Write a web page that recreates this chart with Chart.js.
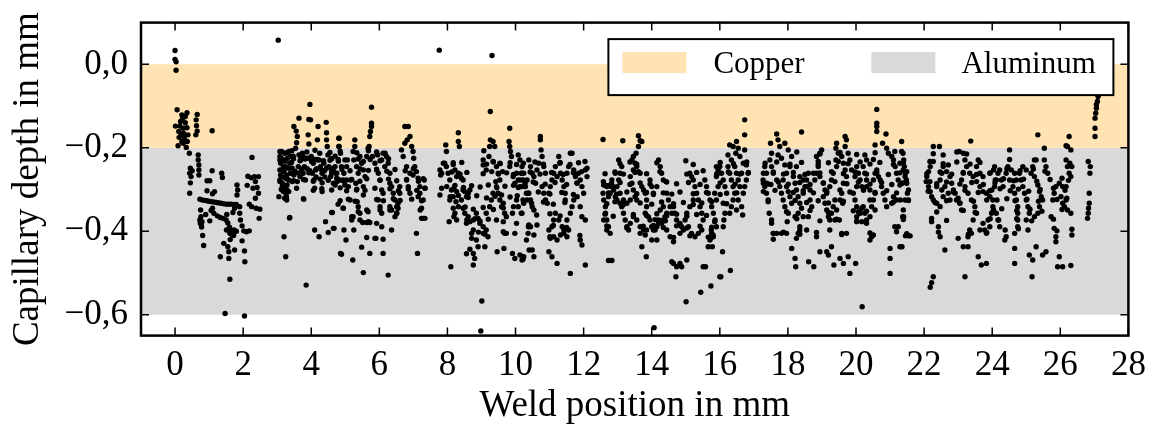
<!DOCTYPE html>
<html>
<head>
<meta charset="utf-8">
<script src="https://cdn.jsdelivr.net/npm/chart.js@4.4.1/dist/chart.umd.min.js"></script>
<style>
  html, body { margin: 0; padding: 0; background: #fff; }
</style>
</head>
<body>
<canvas id="depthChart" width="1150" height="428"></canvas>
<script>
const seg0to3 = [
  [0,0.033],[0,0.012],[0.03,0.006],[0.03,-0.014],
  [0.06,-0.109],[0.2,-0.121],[0.3,-0.125],[0.35,-0.116],[0.01,-0.148],[0.14,-0.148],[0.24,-0.153],[0.35,-0.152],
  [0.11,-0.161],[0.18,-0.169],[0.27,-0.173],[0.38,-0.169],[0.09,-0.195],[0.24,-0.189],[0.33,-0.199],[0.28,-0.181],
  [0.16,-0.137],[0.22,-0.13],[0.25,-0.165],[0.3,-0.14],[0.12,-0.175],[0.36,-0.185],[0.2,-0.185],
  [0.65,-0.12],[0.62,-0.133],[0.63,-0.147],[0.65,-0.16],[0.61,-0.169],[1.09,-0.159],[0.42,-0.213],
  [0.45,-0.249],[0.5,-0.255],[0.43,-0.261],[0.47,-0.269],[0.45,-0.284],[0.43,-0.309],
  [0.68,-0.217],[0.68,-0.229],[0.7,-0.241],[0.7,-0.253],[0.7,-0.265],
  [0.73,-0.323],[0.75,-0.349],[0.73,-0.373],[0.79,-0.377],[0.77,-0.385],[0.81,-0.41],[0.84,-0.434],
  [0.74,-0.38],[0.78,-0.39],[0.76,-0.365],[0.9,-0.36],[1.02,-0.375],
  [0.94,-0.279],[1.02,-0.279],[0.94,-0.303],[1.16,-0.305],[1.09,-0.255],[1.37,-0.261],[1.39,-0.271],[1.1,-0.31],[1.1,-0.345],
  [0.8,-0.325],[0.87,-0.326],[0.93,-0.327],[1.0,-0.328],[1.06,-0.329],[1.14,-0.33],[1.22,-0.331],[1.29,-0.332],
  [1.35,-0.333],[1.43,-0.334],[1.51,-0.335],[1.58,-0.335],[1.65,-0.335],[1.73,-0.336],[1.8,-0.336],
  [1.06,-0.35],[1.14,-0.357],[1.24,-0.363],[1.33,-0.367],[1.41,-0.369],[1.5,-0.373],
  [1.33,-0.461],[1.43,-0.429],[1.55,-0.437],[1.58,-0.449],[1.58,-0.465],[1.51,-0.397],[1.61,-0.405],[1.68,-0.409],
  [1.73,-0.397],[1.75,-0.445],[1.61,-0.515],[1.47,-0.597],[2.04,-0.603],
  [1.55,-0.38],[1.6,-0.39],[1.65,-0.4],[1.72,-0.41],[1.8,-0.4],[1.62,-0.42],[1.52,-0.36],[1.7,-0.355],[1.75,-0.345],
  [1.82,-0.289],[1.84,-0.301],[1.82,-0.313],[1.9,-0.341],[1.9,-0.357],[1.92,-0.373],[1.97,-0.387],[2.02,-0.399],
  [2.1,-0.401],[2.18,-0.399],[1.97,-0.423],[2.04,-0.447],[2.05,-0.473],
  [2.26,-0.223],[2.14,-0.268],[2.24,-0.272],[2.33,-0.269],[2.45,-0.269],[2.36,-0.281],[2.41,-0.295],[2.29,-0.297],
  [2.45,-0.309],[2.36,-0.321],[2.18,-0.335],[2.25,-0.341],[2.38,-0.345],[2.49,-0.347],[2.47,-0.369],[2.12,-0.29]
];

const seg3to5 = [
  [3.03,0.058],
  [3.08,-0.209],[3.08,-0.221],[3.1,-0.237],[3.08,-0.253],[3.1,-0.265],[3.08,-0.281],[3.15,-0.293],[3.18,-0.305],
  [3.05,-0.317],[3.27,-0.317],[3.34,-0.305],[3.29,-0.289],[3.25,-0.273],[3.2,-0.257],[3.18,-0.245],[3.2,-0.229],
  [3.22,-0.213],[3.34,-0.209],[3.39,-0.221],[3.37,-0.237],[3.44,-0.249],[3.39,-0.261],[3.34,-0.277],[3.44,-0.281],
  [3.49,-0.265],[3.29,-0.301],[3.22,-0.321],[3.2,-0.413],[3.25,-0.461],[3.37,-0.367],
  [3.12,-0.225],[3.14,-0.27],[3.12,-0.3],[3.24,-0.245],[3.28,-0.265],[3.3,-0.225],[3.42,-0.235],[3.47,-0.22],
  [3.15,-0.285],[3.26,-0.31],
  [3.49,-0.149],[3.64,-0.129],[3.56,-0.16],[3.59,-0.173],[3.57,-0.188],[3.54,-0.201],[3.64,-0.217],[3.69,-0.229],
  [3.74,-0.213],[3.8,-0.245],[3.76,-0.261],[3.83,-0.277],[3.67,-0.269],[3.59,-0.281],[3.78,-0.323],[3.85,-0.529],
  [3.96,-0.096],[3.93,-0.132],[3.98,-0.133],[3.91,-0.169],[3.93,-0.191],[4.0,-0.221],[4.06,-0.237],[4.13,-0.253],
  [4.08,-0.277],[4.1,-0.297],[4.2,-0.149],[4.18,-0.181],[4.23,-0.229],[4.27,-0.245],[4.32,-0.261],[4.32,-0.284],
  [4.32,-0.305],[4.1,-0.397],[4.23,-0.413],
  [4.44,-0.139],[4.45,-0.164],[4.45,-0.181],[4.47,-0.197],[4.49,-0.217],[4.52,-0.245],[4.57,-0.269],[4.65,-0.285],
  [4.42,-0.377],[4.5,-0.403],[4.67,-0.393],[4.62,-0.355],[4.86,-0.453],[4.81,-0.177],[4.81,-0.197],
  [3.7,-0.222],[3.8,-0.224],[3.9,-0.225],[4.0,-0.226],[4.1,-0.228],[4.2,-0.229],
  [3.88,-0.25],[3.93,-0.26],[4.03,-0.261],[4.25,-0.213],[4.37,-0.237],[4.39,-0.255],[4.72,-0.261],[4.76,-0.281],
  [4.7,-0.245],[3.62,-0.245],[3.72,-0.255],[3.6,-0.26],[4.14,-0.27],[4.4,-0.27],[4.55,-0.23],[4.6,-0.255],[4.7,-0.22]
];

const seg5to7 = [
  [4.82,-0.177],[4.82,-0.197],[4.86,-0.213],[4.79,-0.228],[4.89,-0.245],[4.96,-0.261],[4.65,-0.249],[4.6,-0.261],
  [4.75,-0.261],[4.84,-0.277],[4.94,-0.277],[5.04,-0.277],[4.7,-0.289],[4.99,-0.289],[5.09,-0.293],[5.14,-0.325],
  [4.94,-0.345],[4.79,-0.335],[4.6,-0.355],[4.65,-0.393],[4.89,-0.455],[4.96,-0.397],[5.02,-0.421],[5.22,-0.469],
  [5.25,-0.397],[5.04,-0.245],[5.06,-0.229],[5.16,-0.277],[5.28,-0.181],[5.28,-0.197],[5.23,-0.209],[5.25,-0.229],
  [5.33,-0.245],[5.38,-0.261],[5.31,-0.285],[5.33,-0.301],[5.35,-0.329],[5.38,-0.341],[5.43,-0.357],[5.23,-0.365],
  [5.19,-0.373],[5.53,-0.313],[5.53,-0.293],[5.43,-0.221],[5.48,-0.237],[5.53,-0.253],[5.58,-0.269],[5.63,-0.221],
  [5.67,-0.201],[5.7,-0.197],[5.72,-0.173],[5.77,-0.141],[5.77,-0.149],[5.77,-0.103],[5.74,-0.161],[5.8,-0.221],
  [5.87,-0.237],[5.92,-0.253],[5.97,-0.261],[6.02,-0.277],[5.95,-0.217],[6.11,-0.213],[6.07,-0.229],[6.16,-0.245],
  [6.21,-0.221],[6.26,-0.237],[6.11,-0.309],[5.97,-0.325],[6.02,-0.341],[6.07,-0.357],[5.92,-0.381],[6.07,-0.389],
  [5.87,-0.417],[6.11,-0.419],[6.26,-0.505],[6.36,-0.397],[6.31,-0.261],[6.31,-0.285],[6.36,-0.293],[6.41,-0.309],
  [6.31,-0.341],[6.31,-0.349],[6.46,-0.325],[6.51,-0.341],[6.55,-0.333],[6.6,-0.309],[6.6,-0.293],
  [6.75,-0.149],[6.85,-0.149],[6.65,-0.205],[6.7,-0.221],[6.75,-0.189],[6.82,-0.181],[6.9,-0.173],[6.95,-0.197],
  [6.99,-0.209],[7.01,-0.225],[6.8,-0.245],[6.9,-0.261],[6.8,-0.277],[6.85,-0.293],[6.9,-0.309],[6.99,-0.265],
  [7.04,-0.245],[7.09,-0.257],[7.14,-0.273],[7.19,-0.293],[7.14,-0.317],[7.19,-0.309],[7.29,-0.325],[7.32,-0.277],
  [7.34,-0.297],[7.24,-0.345],[7.24,-0.369],[7.34,-0.369],[7.09,-0.405],[7.12,-0.453],[6.51,-0.357],[6.55,-0.345],
  [6.46,-0.365],[6.36,-0.349],[6.11,-0.453],[5.72,-0.453],[5.48,-0.438],[5.53,-0.499],[5.63,-0.415],[5.9,-0.417],
  [5.67,-0.353],[5.63,-0.379],[5.72,-0.379],[5.51,-0.379]
];

// second reading of the dense band between 3 and 7.4 mm
const band3to7 = [
  [3.13,-0.209],[3.28,-0.212],[3.43,-0.207],[3.87,-0.21],[4.11,-0.206],[4.55,-0.211],[4.85,-0.208],[5.34,-0.212],
  [5.68,-0.207],[5.92,-0.21],[6.17,-0.213],
  [3.08,-0.229],[3.23,-0.232],[3.48,-0.226],[3.67,-0.231],[3.82,-0.227],[4.01,-0.233],[4.16,-0.228],[4.36,-0.231],
  [4.6,-0.226],[4.8,-0.232],[4.99,-0.229],[5.38,-0.227],[5.53,-0.233],[5.73,-0.228],[6.02,-0.231],[6.27,-0.226],
  [3.18,-0.253],[3.33,-0.249],[3.52,-0.256],[3.72,-0.251],[3.96,-0.255],[4.16,-0.25],[4.31,-0.254],[4.45,-0.249],
  [4.65,-0.256],[4.9,-0.252],[5.14,-0.255],[5.43,-0.25],[5.68,-0.254],[5.92,-0.251],[6.22,-0.256],[6.46,-0.252],
  [6.76,-0.255],[7.0,-0.25],
  [3.08,-0.277],[3.28,-0.274],[3.48,-0.279],[3.77,-0.276],[4.06,-0.28],[4.26,-0.275],[4.5,-0.278],[4.75,-0.273],
  [4.94,-0.279],[5.19,-0.276],[5.43,-0.28],[5.63,-0.274],[6.02,-0.278],[6.27,-0.275],[6.51,-0.279],[6.8,-0.276],
  [7.15,-0.28],[7.29,-0.274],
  [3.23,-0.3],[3.57,-0.297],[4.06,-0.302],[4.31,-0.298],[4.6,-0.301],[4.85,-0.296],[5.04,-0.303],[5.34,-0.299],
  [5.58,-0.302],[5.87,-0.297],[6.07,-0.301],[6.31,-0.298],[6.56,-0.303],[6.85,-0.299],[7.1,-0.302],[7.34,-0.297],
  [3.28,-0.325],[3.77,-0.322],[4.85,-0.327],[5.09,-0.323],[5.29,-0.328],[5.92,-0.324],[6.12,-0.327],[6.41,-0.322],
  [6.61,-0.326],[6.95,-0.323],[7.24,-0.327],
  [3.36,-0.368],[4.94,-0.345],[5.19,-0.365],[5.38,-0.353],[5.63,-0.349],[6.02,-0.349],[6.51,-0.357],[7.29,-0.369],
  [7.2,-0.349],[5.43,-0.373],[5.68,-0.377]
];

const seg7to10 = [
  [7.76,0.034],[9.31,0.021],
  [7.78,-0.253],[7.8,-0.265],[7.83,-0.297],[7.78,-0.313],[7.95,-0.193],[7.97,-0.209],[7.92,-0.237],[7.97,-0.245],
  [8.02,-0.261],[8.07,-0.277],[8.17,-0.236],[8.32,-0.164],[8.32,-0.185],[8.35,-0.197],[8.22,-0.253],[8.32,-0.261],
  [8.27,-0.269],[8.41,-0.273],[8.46,-0.277],[8.12,-0.301],[8.19,-0.297],[8.27,-0.305],[8.17,-0.317],[8.07,-0.325],
  [8.25,-0.329],[8.32,-0.341],[8.22,-0.357],[8.19,-0.365],[8.27,-0.373],[8.05,-0.377],[8.1,-0.485],
  [8.46,-0.301],[8.51,-0.305],[8.61,-0.309],[8.66,-0.301],[8.56,-0.317],[8.41,-0.325],[8.46,-0.345],[8.51,-0.357],
  [8.61,-0.365],[8.56,-0.381],[8.66,-0.377],[8.76,-0.373],[8.85,-0.357],[8.9,-0.369],[8.95,-0.381],[9.05,-0.389],
  [8.76,-0.397],[8.71,-0.417],[8.85,-0.421],[8.9,-0.437],[8.76,-0.453],[8.8,-0.465],[8.76,-0.481],[8.66,-0.443],
  [8.56,-0.454],[9.01,-0.567],[8.98,-0.639],
  [9.1,-0.437],[9.05,-0.405],[9.14,-0.397],[9.19,-0.413],[9.14,-0.357],[9.24,-0.341],[9.29,-0.325],[9.34,-0.309],
  [9.07,-0.207],[9.05,-0.229],[9.05,-0.241],[9.14,-0.253],[9.22,-0.221],[9.26,-0.113],[9.26,-0.181],[9.34,-0.185],
  [9.39,-0.197],[9.24,-0.197],[9.34,-0.233],[9.44,-0.245],[9.49,-0.261],[9.54,-0.277],[9.54,-0.237],[9.62,-0.257],
  [9.42,-0.281],[9.44,-0.293],[9.49,-0.309],[9.54,-0.325],[9.59,-0.341],[9.64,-0.333],[9.68,-0.357],[9.73,-0.365],
  [9.64,-0.377],[9.44,-0.373],[9.46,-0.449],[9.66,-0.441],[9.68,-0.405],[9.73,-0.405],
  [9.83,-0.153],[9.81,-0.185],[9.83,-0.197],[9.85,-0.209],[9.88,-0.221],[9.83,-0.245],[9.93,-0.269],[9.98,-0.285],
  [10.03,-0.261],[10.08,-0.277],[10.13,-0.293],[10.03,-0.325],[10.08,-0.341],[10.17,-0.357],[10.22,-0.325],
  [10.17,-0.293],[10.08,-0.217],[10.13,-0.229],[10.17,-0.261],[10.22,-0.277],[10.27,-0.293],[10.32,-0.309],
  [9.91,-0.357],[9.98,-0.405],[10.03,-0.381],[9.91,-0.453],[9.98,-0.465],[10.13,-0.457],[10.22,-0.467],
  [10.32,-0.421],[10.37,-0.405],[10.4,-0.445]
];

const band8to10 = [
  [7.88,-0.237],[8.17,-0.24],[8.42,-0.235],[9.15,-0.239],[9.35,-0.234],[9.55,-0.238],[9.84,-0.236],[10.03,-0.24],
  [7.83,-0.261],[8.13,-0.258],[8.37,-0.263],[8.57,-0.259],[9.05,-0.262],[9.3,-0.257],[9.5,-0.263],[9.74,-0.26],[9.94,-0.264],
  [7.98,-0.293],[8.22,-0.29],[8.47,-0.295],[8.71,-0.291],[8.96,-0.294],[9.2,-0.289],[9.45,-0.296],[9.69,-0.292],
  [9.94,-0.29],[10.08,-0.295],
  [8.08,-0.317],[8.32,-0.314],[8.61,-0.319],[8.86,-0.315],[9.15,-0.32],[9.4,-0.316],[9.59,-0.313],[9.84,-0.318],[10.05,-0.315],
  [8.17,-0.345],[8.52,-0.342],[8.76,-0.347],[9.05,-0.343],[9.35,-0.348],[9.64,-0.344],[9.94,-0.341],
  [8.57,-0.373],[8.81,-0.37],[8.96,-0.376],[9.2,-0.371],
  [8.71,-0.405],[8.91,-0.402],[9.1,-0.407],[9.64,-0.401]
];

const seg10to12 = [
  [10.19,-0.245],[10.24,-0.261],[10.15,-0.277],[10.29,-0.293],[10.34,-0.277],[10.39,-0.229],[10.44,-0.245],
  [10.49,-0.261],[10.54,-0.269],[10.59,-0.285],[10.39,-0.309],[10.44,-0.325],[10.49,-0.341],[10.54,-0.349],
  [10.34,-0.325],[10.24,-0.333],[10.19,-0.357],[10.63,-0.253],[10.68,-0.237],[10.73,-0.173],[10.73,-0.181],
  [10.75,-0.205],[10.78,-0.221],[10.83,-0.245],[10.88,-0.261],[10.78,-0.293],[10.83,-0.309],[10.88,-0.325],
  [10.93,-0.333],[10.98,-0.309],[11.02,-0.293],[11.07,-0.277],[11.12,-0.261],[11.17,-0.245],[11.22,-0.269],
  [11.27,-0.221],[11.3,-0.237],[11.32,-0.261],[11.37,-0.277],[11.42,-0.293],[11.46,-0.309],[11.51,-0.261],
  [11.56,-0.245],[11.61,-0.213],[11.66,-0.213],[11.71,-0.253],[11.76,-0.269],[11.81,-0.285],[11.85,-0.261],
  [11.9,-0.277],[11.95,-0.293],[12.0,-0.309],[12.05,-0.253],[12.1,-0.269],[12.1,-0.249],[11.81,-0.317],
  [11.71,-0.325],[11.66,-0.341],[11.61,-0.357],[11.46,-0.325],[11.9,-0.341],[11.95,-0.365],[12.05,-0.373],
  [11.51,-0.373],[11.42,-0.397],[11.37,-0.389],[11.27,-0.373],[11.17,-0.357],[11.12,-0.373],[11.07,-0.389],
  [10.98,-0.397],[11.12,-0.413],[11.02,-0.417],[10.98,-0.449],[11.07,-0.461],[11.22,-0.421],[11.32,-0.409],
  [11.42,-0.405],[11.22,-0.477],[10.54,-0.409],[10.44,-0.389],[10.39,-0.385],[10.63,-0.385],[10.54,-0.461],
  [10.49,-0.445],[10.24,-0.461],[10.19,-0.469],[11.56,-0.397],[11.51,-0.413],[11.61,-0.501],[11.9,-0.421],
  [11.95,-0.433],[12.05,-0.481]
];

const seg12to16 = [
  [12.57,-0.18],[13.15,-0.183],[13.61,-0.171],[13.66,-0.183],[13.71,-0.185],[13.61,-0.197],[13.54,-0.213],
  [13.46,-0.221],[13.42,-0.229],[13.51,-0.237],[13.56,-0.245],[13.61,-0.257],[13.66,-0.261],[13.46,-0.253],
  [13.37,-0.269],[13.42,-0.285],[13.46,-0.301],[13.51,-0.317],[13.56,-0.325],[13.71,-0.293],[13.76,-0.301],
  [13.81,-0.309],[13.85,-0.325],[13.37,-0.325],[13.27,-0.333],[13.17,-0.325],[13.07,-0.309],[12.98,-0.293],
  [13.03,-0.277],[13.07,-0.261],[13.12,-0.245],[13.03,-0.229],[12.93,-0.261],[12.83,-0.277],[12.78,-0.289],
  [12.68,-0.293],[12.59,-0.289],[12.57,-0.309],[12.59,-0.325],[12.64,-0.341],[12.64,-0.357],[12.68,-0.373],
  [12.73,-0.389],[12.78,-0.405],[12.68,-0.397],[12.59,-0.373],[12.73,-0.317],[12.78,-0.309],[12.88,-0.301],
  [12.93,-0.317],[12.98,-0.325],[13.07,-0.333],[13.12,-0.341],[13.17,-0.357],[13.22,-0.373],[13.27,-0.389],
  [13.32,-0.397],[13.37,-0.381],[13.46,-0.365],[13.56,-0.373],[13.66,-0.389],[13.81,-0.357],[13.85,-0.341],
  [13.9,-0.365],[13.95,-0.373],[13.85,-0.397],[13.76,-0.397],[13.71,-0.437],[13.84,-0.461],[13.81,-0.409],
  [14.0,-0.389],[14.05,-0.397],[14.1,-0.397],[14.15,-0.389],[14.2,-0.381],[14.0,-0.421],[13.66,-0.405],
  [12.73,-0.47],[12.83,-0.47],[13.95,-0.277],[14.0,-0.293],[14.05,-0.309],[14.15,-0.293],[14.2,-0.229],
  [14.25,-0.245],[14.29,-0.261],[14.34,-0.277],[14.42,-0.281],[14.44,-0.309],[14.49,-0.325],[14.54,-0.341],
  [14.59,-0.357],[14.64,-0.341],[14.68,-0.357],[14.73,-0.373],[14.83,-0.381],[14.83,-0.405],[14.88,-0.389],
  [14.93,-0.397],[14.44,-0.397],[14.54,-0.413],[14.64,-0.425],[14.59,-0.473],[14.64,-0.477],[14.73,-0.485],
  [14.71,-0.509],[14.83,-0.477],[14.88,-0.485],[15.01,-0.569],[15.03,-0.469],[14.25,-0.349],[14.34,-0.341],
  [14.39,-0.365],[14.44,-0.357],[14.29,-0.381],[14.15,-0.421],[14.07,-0.631],
  [12.65,-0.29],[12.72,-0.291],[12.8,-0.292],[12.87,-0.293],[14.1,-0.372],[14.2,-0.373],[14.3,-0.374],[14.4,-0.375],
  [15.0,-0.231],[15.12,-0.261],[15.17,-0.269],[15.22,-0.277],[15.27,-0.293],[15.32,-0.309],[15.37,-0.325],
  [15.42,-0.341],[15.47,-0.357],[15.51,-0.373],[15.22,-0.325],[15.12,-0.341],[15.03,-0.357],[14.98,-0.373],
  [15.08,-0.389],[15.17,-0.405],[15.27,-0.413],[15.37,-0.405],[15.47,-0.397],[15.51,-0.255],[15.56,-0.277],
  [15.61,-0.293],[15.66,-0.309],[15.71,-0.325],[15.76,-0.341],[15.81,-0.357],[15.86,-0.373],[15.9,-0.389],
  [15.76,-0.405],[15.71,-0.421],[15.81,-0.413],[15.9,-0.245],[15.95,-0.261],[15.51,-0.485],[15.58,-0.485],
  [15.44,-0.546],[15.74,-0.531],[16.0,-0.509],[15.66,-0.437]
];

const band10to16 = [
  [10.23,-0.237],[10.57,-0.234],[10.82,-0.239],[11.31,-0.235],[11.6,-0.24],[11.85,-0.236],[12.04,-0.233],[13.07,-0.238],
  [13.36,-0.234],[13.56,-0.239],[14.15,-0.236],[15.22,-0.24],[16.01,-0.235],[16.4,-0.238],[16.79,-0.234],
  [10.18,-0.261],[10.43,-0.258],[10.72,-0.263],[11.06,-0.259],[11.4,-0.264],[11.7,-0.26],[11.94,-0.257],[12.63,-0.262],
  [12.92,-0.258],[13.17,-0.263],[13.51,-0.259],[13.85,-0.262],[14.24,-0.257],[15.03,-0.263],[15.32,-0.259],[15.91,-0.262],
  [16.25,-0.258],[16.59,-0.263],[16.84,-0.259],
  [10.28,-0.285],[10.52,-0.282],[10.87,-0.287],[11.16,-0.283],[11.5,-0.288],[11.8,-0.284],[12.58,-0.281],[12.82,-0.286],
  [13.07,-0.283],[13.36,-0.288],[13.66,-0.284],[13.95,-0.287],[14.44,-0.282],[14.73,-0.286],[15.08,-0.283],[15.42,-0.288],
  [16.01,-0.284],[16.45,-0.287],
  [10.38,-0.309],[10.67,-0.306],[11.01,-0.311],[11.36,-0.307],[11.7,-0.312],[12.73,-0.308],[12.97,-0.311],[13.27,-0.306],
  [13.56,-0.31],[13.85,-0.307],[14.05,-0.312],[14.34,-0.308],[14.59,-0.311],[14.83,-0.306],[15.22,-0.31],[15.61,-0.307],
  [16.01,-0.312],[16.5,-0.308],
  [10.47,-0.333],[10.82,-0.33],[11.11,-0.335],[11.45,-0.331],[12.68,-0.334],[12.92,-0.329],[13.17,-0.336],[13.66,-0.332],
  [14.0,-0.335],[14.29,-0.33],[14.64,-0.334],[14.93,-0.331],[15.22,-0.336],[15.47,-0.332],[15.76,-0.329],[16.2,-0.334],
  [10.62,-0.361],[11.01,-0.358],[11.31,-0.363],[12.63,-0.359],[12.87,-0.364],[13.46,-0.36],[13.85,-0.362],[14.15,-0.358],
  [14.44,-0.363],[14.73,-0.359],[15.03,-0.364],[15.32,-0.36],[15.61,-0.362],
  [10.38,-0.389],[11.11,-0.386],[11.5,-0.391],[12.68,-0.387],[13.27,-0.392],[13.75,-0.388],[14.05,-0.386],[14.34,-0.391],
  [14.73,-0.387],[15.03,-0.392],[15.42,-0.388],[15.76,-0.39],
  [11.01,-0.413],[11.89,-0.41],[14.64,-0.415],[15.12,-0.411],[15.66,-0.414]
];

const seg16to19 = [
  [15.75,-0.397],[15.8,-0.409],[15.73,-0.417],[15.78,-0.437],[15.85,-0.377],[15.9,-0.325],[15.85,-0.309],
  [15.95,-0.293],[15.9,-0.269],[15.95,-0.253],[16.0,-0.245],[16.05,-0.261],[16.1,-0.277],[16.15,-0.293],
  [16.2,-0.309],[16.1,-0.333],[16.15,-0.357],[16.12,-0.373],[16.1,-0.389],[16.08,-0.449],[16.03,-0.509],
  [16.31,-0.494],[16.29,-0.357],[16.34,-0.341],[16.39,-0.325],[16.44,-0.309],[16.39,-0.293],[16.34,-0.277],
  [16.29,-0.261],[16.24,-0.245],[16.24,-0.217],[16.29,-0.193],[16.34,-0.229],[16.44,-0.245],[16.49,-0.261],
  [16.54,-0.277],[16.59,-0.293],[16.54,-0.325],[16.49,-0.349],[16.64,-0.341],[16.67,-0.361],[16.69,-0.309],
  [16.73,-0.293],[16.78,-0.277],[16.83,-0.261],[16.78,-0.241],[16.73,-0.205],[16.73,-0.169],[16.73,-0.133],
  [16.64,-0.261],[16.69,-0.237],[16.59,-0.221],[16.54,-0.201],[16.49,-0.185],[16.47,-0.213],[16.39,-0.197],
  [17.32,-0.245],[17.37,-0.261],[17.27,-0.277],[17.32,-0.293],[17.37,-0.309],[17.42,-0.325],[17.45,-0.357],
  [17.52,-0.381],[17.57,-0.405],[17.57,-0.419],[17.67,-0.405],[17.81,-0.405],[17.96,-0.405],[17.98,-0.377],
  [18.01,-0.357],[17.91,-0.341],[17.86,-0.325],[17.81,-0.309],[17.76,-0.293],[17.67,-0.277],[17.57,-0.261],
  [17.52,-0.245],[17.47,-0.229],[17.49,-0.189],[17.67,-0.167],[17.71,-0.181],[17.76,-0.197],[17.71,-0.217],
  [17.81,-0.225],[17.91,-0.241],[17.96,-0.261],[17.86,-0.277],[17.96,-0.293],[18.01,-0.305],[18.06,-0.317],
  [18.11,-0.333],[18.16,-0.269],[18.21,-0.285],[18.25,-0.301],[18.3,-0.317],[18.35,-0.333],[18.4,-0.345],
  [18.45,-0.309],[18.5,-0.293],[18.55,-0.277],[18.6,-0.261],[18.65,-0.301],[18.65,-0.325],[18.7,-0.341],
  [18.6,-0.365],[18.45,-0.365],[18.35,-0.389],[18.3,-0.405],[18.25,-0.417],[18.11,-0.441],[18.21,-0.465],
  [18.23,-0.485],[18.35,-0.397],[18.55,-0.397],[18.61,-0.473],[18.76,-0.485],[18.4,-0.162],[18.11,-0.221],
  [18.01,-0.205],[17.91,-0.189],[18.06,-0.245],[18.25,-0.245],[18.35,-0.269],[18.45,-0.277],[18.55,-0.293],
  [18.3,-0.357],[18.21,-0.365],[17.28,-0.285],[17.35,-0.286],[17.42,-0.287],[17.5,-0.288]
];

const seg19to22 = [
  [18.75,-0.261],[18.79,-0.277],[18.84,-0.261],[18.89,-0.245],[18.84,-0.221],[18.94,-0.213],[18.99,-0.205],
  [18.89,-0.233],[18.94,-0.269],[19.04,-0.285],[19.09,-0.301],[19.04,-0.317],[19.09,-0.333],[19.14,-0.349],
  [19.19,-0.365],[19.23,-0.373],[19.28,-0.357],[19.33,-0.341],[19.38,-0.325],[19.14,-0.309],[19.23,-0.293],
  [19.28,-0.277],[19.33,-0.261],[19.43,-0.245],[19.41,-0.229],[19.48,-0.213],[19.43,-0.189],[19.41,-0.201],
  [19.58,-0.221],[19.63,-0.237],[19.68,-0.253],[19.72,-0.269],[19.63,-0.285],[19.58,-0.309],[19.53,-0.325],
  [19.61,-0.333],[19.43,-0.349],[19.38,-0.373],[19.23,-0.397],[19.28,-0.437],[19.19,-0.457],[19.14,-0.449],
  [19.35,-0.481],[19.53,-0.465],[19.63,-0.477],[19.77,-0.461],[19.82,-0.501],[19.99,-0.477],[19.68,-0.173],
  [19.72,-0.181],[19.68,-0.197],[19.77,-0.213],[19.82,-0.229],[19.72,-0.405],[19.58,-0.405],[19.51,-0.373],
  [18.84,-0.413],[18.94,-0.449],
  [19.87,-0.253],[19.97,-0.269],[20.02,-0.245],[20.07,-0.261],[20.12,-0.277],[20.17,-0.293],[20.21,-0.245],
  [20.26,-0.261],[20.31,-0.277],[20.02,-0.293],[19.92,-0.309],[19.97,-0.325],[20.02,-0.341],[20.07,-0.353],
  [20.12,-0.357],[20.17,-0.345],[20.21,-0.341],[20.26,-0.357],[20.31,-0.373],[20.41,-0.365],[20.46,-0.341],
  [20.51,-0.325],[20.56,-0.309],[20.41,-0.301],[20.31,-0.293],[20.51,-0.277],[20.56,-0.261],[20.61,-0.253],
  [20.66,-0.269],[20.71,-0.277],[20.75,-0.293],[20.8,-0.309],[20.85,-0.325],[20.9,-0.341],[20.31,-0.229],
  [20.26,-0.217],[20.51,-0.228],[20.56,-0.193],[20.61,-0.149],[20.61,-0.141],[20.61,-0.161],[20.61,-0.108],
  [20.88,-0.167],[20.78,-0.189],[20.9,-0.201],[20.95,-0.213],[21.05,-0.221],[21.1,-0.229],[21.15,-0.245],
  [21.19,-0.261],[21.24,-0.277],[21.29,-0.289],[21.34,-0.185],[21.34,-0.209],[21.29,-0.237],[21.39,-0.253],
  [21.44,-0.269],[21.49,-0.285],[21.54,-0.301],[21.44,-0.325],[21.39,-0.349],[21.37,-0.365],[21.19,-0.325],
  [21.1,-0.317],[21.05,-0.333],[20.02,-0.365],[20.02,-0.377],[20.17,-0.377],[20.31,-0.381],[20.41,-0.421],
  [20.46,-0.413],[20.51,-0.409],[21.0,-0.441],[21.0,-0.465],[21.0,-0.501],[21.29,-0.437],[21.14,-0.389],
  [21.24,-0.389],[21.54,-0.411],[21.59,-0.411],[20.18,-0.581],
  [21.38,-0.213],[21.4,-0.229],[21.42,-0.245],[21.45,-0.261],[21.48,-0.277],[21.51,-0.309],[21.54,-0.325],
  [21.4,-0.365],[21.45,-0.411],[21.35,-0.437],[21.3,-0.325],[21.35,-0.285]
];

const band17to24 = [
  [17.52,-0.213],[18.26,-0.21],[18.94,-0.215],[19.53,-0.211],[20.02,-0.216],[20.56,-0.212],[21.14,-0.209],[22.27,-0.214],
  [22.96,-0.21],[23.25,-0.215],
  [17.33,-0.237],[17.67,-0.234],[18.06,-0.239],[18.4,-0.235],[18.89,-0.24],[19.19,-0.236],[19.48,-0.233],[19.77,-0.238],
  [20.12,-0.234],[20.41,-0.239],[20.7,-0.235],[21.1,-0.24],[21.39,-0.236],[22.17,-0.233],[22.56,-0.238],[22.96,-0.234],
  [23.35,-0.239],[23.64,-0.235],
  [17.28,-0.261],[17.57,-0.258],[17.87,-0.263],[18.16,-0.259],[18.5,-0.264],[18.94,-0.26],[19.28,-0.257],[19.63,-0.262],
  [19.97,-0.258],[20.31,-0.263],[20.61,-0.259],[20.95,-0.264],[21.29,-0.26],[21.49,-0.257],[22.08,-0.262],[22.47,-0.258],
  [22.81,-0.263],[23.15,-0.259],[23.54,-0.264],[23.94,-0.26],
  [17.38,-0.285],[17.72,-0.282],[18.01,-0.287],[18.35,-0.283],[18.65,-0.288],[19.04,-0.284],[19.38,-0.281],[19.73,-0.286],
  [20.07,-0.282],[20.41,-0.287],[20.75,-0.283],[21.05,-0.288],[21.39,-0.284],[22.17,-0.281],[22.37,-0.286],[22.66,-0.282],
  [23.05,-0.287],[23.4,-0.283],[23.74,-0.288],[24.08,-0.284],
  [17.28,-0.305],[17.62,-0.302],[18.16,-0.307],[18.45,-0.303],[18.75,-0.308],[19.14,-0.304],[19.53,-0.301],[19.82,-0.306],
  [20.22,-0.302],[20.56,-0.307],[20.9,-0.303],[21.19,-0.308],[22.12,-0.304],[22.52,-0.301],[22.86,-0.306],[23.2,-0.302],
  [23.59,-0.307],[23.93,-0.303],
  [17.42,-0.329],[18.21,-0.326],[18.55,-0.331],[18.89,-0.327],[19.19,-0.332],[19.63,-0.328],[20.41,-0.325],[21.1,-0.33],
  [21.54,-0.326],[22.32,-0.331],[22.66,-0.327],[23.05,-0.332],[23.45,-0.328],[23.84,-0.325],
  [17.96,-0.353],[18.65,-0.35],[19.19,-0.355],[19.92,-0.351],[20.12,-0.356],[20.31,-0.352],[20.56,-0.349],[22.37,-0.354],
  [23.15,-0.35],[23.5,-0.355],[24.03,-0.351],
  [17.52,-0.373],[18.26,-0.37],[18.94,-0.375],[19.43,-0.371],[20.02,-0.376],[21.39,-0.372],[22.22,-0.369],[22.66,-0.374],[23.94,-0.37],
  [17.57,-0.405],[17.87,-0.402],[18.35,-0.407],[18.84,-0.403],[19.58,-0.408],[20.41,-0.404],[21.19,-0.401],[21.49,-0.406],
  [22.42,-0.402],[23.3,-0.407],[23.84,-0.403]
];

const seg22to27 = [
  [22.27,-0.197],[22.45,-0.197],[22.56,-0.217],[22.27,-0.233],[22.18,-0.245],[22.13,-0.257],[22.08,-0.269],
  [22.06,-0.281],[22.13,-0.293],[22.18,-0.305],[22.22,-0.317],[22.27,-0.325],[22.37,-0.333],[22.47,-0.341],
  [22.37,-0.293],[22.47,-0.277],[22.52,-0.261],[22.56,-0.245],[22.71,-0.241],[22.66,-0.257],[22.76,-0.269],
  [22.81,-0.285],[22.86,-0.301],[22.91,-0.309],[23.0,-0.321],[23.05,-0.333],[23.1,-0.349],[22.95,-0.325],
  [22.76,-0.325],[22.71,-0.309],[22.61,-0.293],[22.56,-0.317],[22.22,-0.377],[22.42,-0.389],[22.47,-0.413],
  [22.61,-0.445],[22.27,-0.509],[22.22,-0.523],[22.18,-0.534],[23.0,-0.417],[23.15,-0.437],[23.29,-0.437],
  [23.29,-0.413],[23.2,-0.509],[23.37,-0.184],[23.03,-0.209],[23.15,-0.213],[23.2,-0.229],[23.25,-0.245],
  [23.15,-0.261],[23.1,-0.277],[23.2,-0.293],[23.29,-0.309],[23.39,-0.325],[23.49,-0.341],[23.54,-0.357],
  [23.44,-0.373],[23.34,-0.397],[23.39,-0.405],[23.59,-0.461],[23.68,-0.481],[23.83,-0.477],[23.64,-0.397],
  [23.73,-0.381],[23.78,-0.397],[23.83,-0.405],[23.93,-0.389],[23.88,-0.373],[23.34,-0.261],[23.44,-0.269],
  [23.54,-0.281],[23.64,-0.293],[23.73,-0.305],[23.83,-0.309],[23.93,-0.317],[24.02,-0.325],[24.07,-0.293],
  [24.12,-0.277],[24.17,-0.261],[24.22,-0.253],[24.27,-0.277],[24.32,-0.293],[24.02,-0.341],[23.98,-0.357],
  [24.12,-0.357],[24.17,-0.373],[24.22,-0.389],[24.07,-0.245],[23.93,-0.261],[23.73,-0.269],[23.64,-0.261],
  [23.54,-0.245],[23.59,-0.229],
  [24.51,-0.205],[24.51,-0.228],[24.46,-0.245],[24.41,-0.261],[24.51,-0.277],[24.61,-0.293],[24.66,-0.309],
  [24.71,-0.325],[24.75,-0.341],[24.75,-0.357],[24.75,-0.373],[24.75,-0.389],[24.66,-0.405],[24.41,-0.413],
  [24.37,-0.421],[24.66,-0.441],[24.66,-0.477],[24.56,-0.253],[24.66,-0.261],[24.71,-0.277],[24.8,-0.261],
  [24.85,-0.277],[24.9,-0.293],[24.95,-0.309],[25.0,-0.325],[25.05,-0.341],[25.09,-0.357],[25.0,-0.373],
  [25.05,-0.397],[25.09,-0.457],[25.19,-0.469],[25.17,-0.509],[25.29,-0.437],[24.9,-0.245],[25.0,-0.253],
  [25.14,-0.261],[25.24,-0.269],[25.19,-0.245],[25.29,-0.229],[25.34,-0.169],[25.24,-0.229],[25.34,-0.289],
  [25.39,-0.305],[25.44,-0.317],[25.48,-0.325],[25.53,-0.229],[25.53,-0.201],[25.58,-0.245],[25.63,-0.261],
  [25.39,-0.341],[25.34,-0.357],[25.24,-0.365],[25.58,-0.449],[25.48,-0.457],
  [25.82,-0.393],[25.87,-0.413],[25.87,-0.425],[25.97,-0.461],[25.92,-0.485],[25.73,-0.365],[25.78,-0.325],
  [25.82,-0.309],[25.87,-0.293],[25.97,-0.285],[26.07,-0.293],[26.02,-0.317],[26.07,-0.333],[26.12,-0.341],
  [26.17,-0.325],[26.21,-0.349],[26.26,-0.173],[26.17,-0.195],[26.21,-0.197],[26.31,-0.205],[26.17,-0.229],
  [26.21,-0.245],[26.26,-0.261],[26.31,-0.269],[26.34,-0.245],[26.28,-0.237],[26.17,-0.293],[26.31,-0.357],
  [26.34,-0.409],[26.31,-0.482],[26.07,-0.485],
  [26.82,-0.233],[26.88,-0.245],[26.87,-0.261],[26.85,-0.309],[26.85,-0.333],[26.83,-0.345],[26.82,-0.357],
  [26.8,-0.369],[27.02,-0.173],[27.02,-0.153],[27.02,-0.129],[27.04,-0.117],[27.06,-0.105],[27.09,-0.089],
  [27.11,-0.077],[27.06,-0.097]
];

const band24to26 = [
  [24.04,-0.253],[24.43,-0.25],[24.82,-0.255],[25.21,-0.251],[25.55,-0.256],
  [24.09,-0.277],[24.33,-0.274],[24.63,-0.279],[24.92,-0.275],[25.31,-0.28],[25.7,-0.276],[26.05,-0.273],[26.24,-0.278],
  [23.99,-0.301],[24.23,-0.298],[24.53,-0.303],[24.77,-0.299],[25.07,-0.304],[25.41,-0.3],[25.8,-0.297],[26.14,-0.302],
  [24.14,-0.325],[24.43,-0.322],[24.67,-0.327],[25.02,-0.323],[25.36,-0.328],[25.9,-0.324],[26.19,-0.321],
  [24.04,-0.349],[24.28,-0.346],[24.72,-0.351],[25.11,-0.347],[25.46,-0.352],[26.05,-0.348],
  [24.19,-0.373],[24.72,-0.37],[25.16,-0.375],[25.8,-0.371],
  [24.38,-0.397],[24.77,-0.394],[25.9,-0.399],[26.34,-0.395]
];

const depthPoints = [].concat(
    seg0to3, seg3to5, seg5to7, band3to7, seg7to10, band8to10, seg10to12, seg12to16, band10to16,
    seg16to19, seg19to22, band17to24, seg22to27, band24to26
);

// material zones (depth limits in mm)
const zoneNames = ['Copper', 'Aluminum'];
const zoneTop = [0, -0.2];
const zoneBottom = [-0.2, -0.6];
const zoneColors = ['#ffe3b3', '#d9d9d9'];

const xRange = [-1, 28];
const yRange = [-0.65, 0.1];
const xTickValues = [0, 2, 4, 6, 8, 10, 12, 14, 16, 18, 20, 22, 24, 26, 28];
const yTickValues = [0, -0.2, -0.4, -0.6];
const yTickLabels = ['0,0', '\u22120,2', '\u22120,4', '\u22120,6'];

const serif = "'Liberation Serif', 'DejaVu Serif', serif";

// zone bands as filled lines across the whole x range
const zoneDatasets = zoneNames.map((name, i) => ({
    type: 'line',
    label: name,
    data: [{ x: xRange[0], y: zoneTop[i] }, { x: xRange[1], y: zoneTop[i] }],
    fill: { value: zoneBottom[i] },
    backgroundColor: zoneColors[i],
    borderWidth: 0,
    pointRadius: 0,
    order: 2 + i
}));

// frame with inward ticks on all four sides, then the boxed legend
const framePlugin = {
    id: 'frameAndLegend',
    afterDatasetsDraw(chart) {
        const { ctx, chartArea: a, scales } = chart;
        ctx.save();
        ctx.strokeStyle = '#000';
        ctx.lineWidth = 1.5;
        const tl = 8;
        ctx.beginPath();
        xTickValues.forEach(v => {
            const px = scales.x.getPixelForValue(v);
            ctx.moveTo(px, a.bottom); ctx.lineTo(px, a.bottom - tl);
            ctx.moveTo(px, a.top); ctx.lineTo(px, a.top + tl);
        });
        yTickValues.forEach(v => {
            const py = scales.y.getPixelForValue(v);
            ctx.moveTo(a.left, py); ctx.lineTo(a.left + tl, py);
            ctx.moveTo(a.right, py); ctx.lineTo(a.right - tl, py);
        });
        ctx.stroke();
        ctx.lineWidth = 2.5;
        ctx.strokeRect(a.left, a.top, a.right - a.left, a.bottom - a.top);
        ctx.restore();
    },
    afterDraw(chart) {
        const { ctx, chartArea: a } = chart;
        const box = { x: a.right - 520, y: a.top + 16.5, w: 505, h: 56 };
        const swatchX = [14, 263];
        const textX = [105, 353];
        ctx.save();
        ctx.fillStyle = '#fff';
        ctx.fillRect(box.x, box.y, box.w, box.h);
        ctx.strokeStyle = '#000';
        ctx.lineWidth = 2;
        ctx.strokeRect(box.x, box.y, box.w, box.h);
        ctx.font = '31px ' + serif;
        ctx.textBaseline = 'alphabetic';
        zoneDatasets.forEach((ds, i) => {
            ctx.fillStyle = ds.backgroundColor;
            ctx.fillRect(box.x + swatchX[i], box.y + 13, 64, 21);
            ctx.fillStyle = '#000';
            ctx.fillText(ds.label, box.x + textX[i], box.y + 34);
        });
        ctx.restore();
    }
};

const ctx = document.getElementById('depthChart').getContext('2d');
const depthChart = new Chart(ctx, {
    type: 'scatter',
    data: {
        datasets: [{
            label: 'Capillary depth',
            data: depthPoints.map(p => ({ x: p[0], y: p[1] })),
            backgroundColor: '#000',
            borderWidth: 0,
            pointRadius: 2.7,
            order: 1
        }].concat(zoneDatasets)
    },
    options: {
        responsive: false,
        animation: false,
        devicePixelRatio: 1,
        layout: { padding: { top: 22.6, right: 21.6, left: 0, bottom: 0 } },
        plugins: {
            legend: { display: false },
            tooltip: { enabled: false }
        },
        scales: {
            x: {
                type: 'linear',
                min: xRange[0],
                max: xRange[1],
                afterBuildTicks: s => { s.ticks = xTickValues.map(v => ({ value: v })); },
                afterFit: s => { s.height = 92.4; s.paddingLeft = 0; s.paddingRight = 0; },
                grid: { display: false, drawTicks: false },
                border: { display: false },
                ticks: {
                    autoSkip: false, maxRotation: 0, padding: 9,
                    color: '#000',
                    font: { family: serif, size: 35 },
                    callback: v => String(v)
                },
                title: {
                    display: true, text: 'Weld position in mm', color: '#000',
                    font: { family: serif, size: 37, lineHeight: 1 },
                    padding: { top: 0, bottom: 3 }
                }
            },
            y: {
                type: 'linear',
                min: yRange[0],
                max: yRange[1],
                afterBuildTicks: s => { s.ticks = yTickValues.map(v => ({ value: v })); },
                afterFit: s => { s.width = 141; s.paddingTop = 0; s.paddingBottom = 0; },
                grid: { display: false, drawTicks: false },
                border: { display: false },
                ticks: {
                    autoSkip: false, padding: 13,
                    color: '#000',
                    font: { family: serif, size: 35 },
                    callback: v => {
                        const i = yTickValues.findIndex(t => Math.abs(t - v) < 1e-9);
                        return i >= 0 ? yTickLabels[i] : '';
                    }
                },
                title: {
                    display: true, text: 'Capillary depth in mm', color: '#000',
                    font: { family: serif, size: 37, lineHeight: 1 },
                    padding: { top: 9.5, bottom: 0 }
                }
            }
        }
    },
    plugins: [framePlugin]
});
</script>
</body>
</html>
